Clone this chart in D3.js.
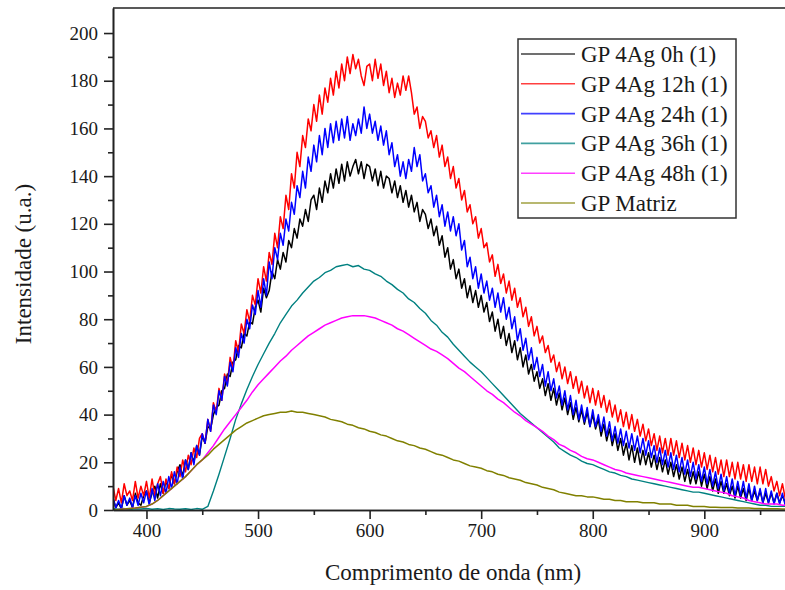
<!DOCTYPE html>
<html>
<head>
<meta charset="utf-8">
<script src="https://cdn.jsdelivr.net/npm/d3@7"></script>
<style>
  html, body { margin: 0; padding: 0; background: #fff; }
  svg { display: block; }
  text { font-family: "Liberation Serif", "Times New Roman", serif; fill: #1a1a1a; }
</style>
</head>
<body>
<svg id="chart" width="785" height="590"></svg>
<script>
// ---- Data ----
// measured spectra (noisy) on a 2.5 nm grid, smooth spectra on a 5 nm grid
const wavelengthsFine = d3.range(370, 975.1, 2.5);
const wavelengths = d3.range(370, 975.1, 5);

const seriesNames = ["GP 4Ag 0h (1)", "GP 4Ag 12h (1)", "GP 4Ag 24h (1)", "GP 4Ag 36h (1)", "GP 4Ag 48h (1)", "GP Matriz"];
const seriesColors = ["#000000", "#ff0000", "#0000ff", "#008080", "#ff00ff", "#808000"];

const gp0h = [
  5, 1, 3, 0.5, 6, 2, 4, 1, 7, 3, 2, 6,
  8, 3, 7, 10, 5, 11, 7, 12, 9, 15, 11, 16, 19, 14, 21, 17, 24, 20, 27, 23,
  31, 28, 35, 34, 40, 43, 44, 50, 51, 57, 56, 62, 63, 69, 68, 74, 73, 79, 78, 85,
  88, 83, 93, 89, 92, 100, 97, 105, 101, 108, 104, 113, 110, 118, 114, 122, 119, 126, 121, 130,
  132, 126, 135, 129, 138, 133, 141, 135, 143, 137, 145, 138, 146, 140, 144, 147, 141, 146, 139, 145,
  144, 138, 143, 136, 142, 135, 140, 139, 133, 138, 131, 136, 129, 134, 127, 132, 125, 129, 121, 126,
  124, 118, 122, 115, 119, 111, 115, 106, 110, 101, 105, 97, 101, 93, 97, 89, 94, 87, 92, 85,
  90, 83, 87, 79, 83, 75, 80, 72, 77, 69, 74, 66, 71, 63, 68, 60, 65, 57, 61, 54,
  58, 51, 55, 48, 53, 46, 51, 44, 49, 42, 47, 40, 45, 38, 43, 37, 42, 36, 41, 35,
  40, 34, 38, 31, 36, 29, 34, 27, 32, 25, 30, 23, 28, 21, 27, 20, 26, 19, 25, 19,
  24, 18, 23, 17, 22, 16, 21, 15, 20, 14, 19, 13, 18, 12, 17, 11, 16, 11, 16, 10,
  15, 9, 14, 8, 13, 7, 12, 7, 11, 6, 10, 5, 10, 5, 9, 4, 9, 4, 8, 4,
  8, 3, 7, 3, 7, 3, 7, 3, 6, 3, 5
];

const gp12h = [
  10, 4, 9, 3, 11, 6, 8, 4, 12, 5, 10, 6,
  12, 5, 13, 6, 11, 14, 7, 13, 9, 16, 11, 18, 14, 21, 16, 23, 19, 26, 22, 30,
  32, 28, 38, 33, 45, 41, 51, 46, 57, 53, 64, 59, 71, 66, 78, 74, 84, 79, 90, 86,
  97, 91, 102, 96, 108, 103, 116, 110, 123, 118, 132, 126, 141, 135, 150, 144, 157, 152, 164, 159,
  170, 163, 174, 166, 177, 171, 181, 174, 184, 177, 187, 180, 190, 183, 191, 185, 189, 182, 178, 186,
  187, 180, 189, 181, 187, 178, 184, 175, 181, 173, 179, 174, 182, 176, 182, 175, 166, 169, 160, 165,
  163, 156, 159, 152, 157, 148, 153, 144, 148, 139, 144, 135, 139, 130, 134, 125, 128, 120, 123, 114,
  118, 110, 112, 104, 107, 98, 103, 95, 99, 91, 96, 88, 93, 85, 89, 81, 85, 77, 81, 73,
  77, 70, 73, 66, 69, 62, 65, 58, 62, 55, 60, 53, 58, 51, 56, 49, 54, 47, 52, 45,
  51, 44, 50, 43, 48, 41, 46, 39, 44, 37, 42, 35, 41, 34, 40, 33, 38, 31, 36, 29,
  34, 27, 32, 25, 31, 24, 30, 23, 30, 23, 29, 22, 28, 21, 27, 20, 26, 19, 25, 18,
  24, 17, 23, 16, 22, 15, 21, 14, 21, 14, 20, 13, 20, 13, 19, 12, 19, 12, 18, 11,
  18, 11, 17, 10, 14, 8, 12, 6, 11, 5, 9
];

const gp24h = [
  5, 1, 4, 0.5, 6, 2, 5, 1, 6, 2, 7, 3,
  8, 2, 9, 4, 11, 6, 12, 7, 14, 9, 16, 11, 18, 13, 21, 17, 24, 19, 27, 23,
  32, 28, 38, 33, 44, 40, 50, 46, 56, 52, 62, 58, 68, 64, 74, 70, 80, 76, 86, 82,
  92, 85, 97, 90, 104, 97, 110, 105, 116, 111, 122, 117, 129, 124, 136, 131, 142, 135, 148, 142,
  153, 146, 157, 149, 160, 152, 162, 154, 163, 155, 164, 156, 165, 155, 162, 157, 164, 158, 169, 160,
  166, 158, 163, 155, 161, 153, 159, 149, 154, 144, 149, 140, 146, 139, 147, 142, 152, 144, 149, 138,
  141, 133, 136, 127, 132, 123, 128, 119, 125, 117, 123, 115, 120, 109, 113, 102, 106, 97, 102, 93,
  99, 91, 96, 88, 93, 85, 91, 83, 89, 80, 85, 76, 81, 71, 76, 67, 72, 63, 68, 59,
  64, 56, 61, 52, 58, 50, 55, 47, 52, 44, 50, 42, 48, 40, 46, 38, 44, 37, 43, 35,
  42, 35, 40, 33, 39, 31, 37, 29, 35, 28, 34, 27, 33, 26, 32, 25, 31, 24, 30, 23,
  29, 22, 27, 20, 26, 19, 25, 18, 24, 17, 23, 16, 22, 15, 21, 14, 20, 13, 19, 12,
  18, 11, 17, 10, 16, 9, 15, 8, 14, 7, 13, 6, 12, 6, 12, 5, 11, 4, 10, 4,
  9, 3, 9, 3, 8, 2.5, 7, 2.5, 7, 2, 6
];

const gp36h = [
  0.5, 0.3, 0.6, 0.2, 0.5, 0.4, 0.6, 0.3, 0.5, 0.2, 0.6, 0.4, 0.3, 0.5, 0.2, 0.6,
  0.3, 1.5, 8, 15, 22.5, 30, 38, 44.5, 50.5, 56,
  61, 65.5, 70, 74, 78.5, 82, 85.5, 88, 91, 93.5,
  96, 97.5, 99.5, 100.5, 102, 102.5, 103, 102, 102.5, 101,
  100.5, 99, 98, 96, 94.5, 92.5, 91, 88.5, 87, 84.5,
  82.5, 79.5, 77.5, 74.5, 72.5, 69.5, 67, 64.5, 62, 60,
  58, 55.5, 53, 50.5, 48, 45.5, 43, 40.5, 38.5, 36.5,
  34.5, 32.5, 30.5, 28.5, 26, 24.5, 23, 22, 20.5, 19.5,
  19, 18, 17, 16, 15.5, 14.5, 14, 13, 12.5, 12,
  11.5, 11, 10.5, 10, 9.5, 9, 8.5, 8, 7.5, 7.5,
  7, 6.5, 6, 5.5, 5, 4.5, 4, 3.5, 3, 2.5,
  2, 2, 1.5, 1.5, 1.5, 1.5
];

const gp48h = [
  0, 0.2, 0.4, 0.6, 0.8, 1.2, 1.5, 2.5, 4, 6, 8, 10, 12, 14, 16.5, 19,
  21, 24, 27, 30.5, 34, 37, 40, 43, 46, 49.5,
  52.5, 55, 57.5, 60, 62.5, 64.5, 67, 69, 71, 73,
  74.5, 76, 77.5, 78.5, 79.5, 80.5, 81, 81.5, 81.5, 81.5,
  81, 80.5, 79.5, 78.5, 77.5, 76, 75, 73.5, 72, 70.5,
  69, 67.5, 66.5, 65, 63.5, 61.5, 59.5, 58, 56, 54,
  52, 50, 48.5, 46.5, 45, 43, 41, 39.5, 37.5, 36,
  34.5, 33, 31, 29.5, 27.5, 26.5, 25, 24, 22.5, 21.5,
  21, 20, 19, 18, 17, 16.5, 15.5, 15, 14.5, 14,
  13.5, 13, 12.5, 12, 11.5, 11, 10.5, 10, 9.5, 9.5,
  9, 8.5, 8, 7.5, 7, 6, 5.5, 5, 4, 3.5,
  3, 2.5, 2.5, 2.5, 2, 2
];

const gpMatriz = [
  0, 0.2, 0.4, 0.6, 0.8, 1.2, 1.5, 2.5, 4, 6, 8, 10, 12, 14, 16.5, 19,
  21, 23, 25.5, 27.5, 29.5, 31.5, 33.5, 35, 36.5, 37.5,
  38.5, 39.5, 40, 40.5, 41, 41, 41.5, 41, 41, 40.5,
  40, 39.5, 39, 38, 37.5, 37, 36, 35.5, 34.5, 34,
  33, 32.5, 31.5, 31, 30, 29, 28.5, 27.5, 27, 26,
  25.5, 24.5, 23.5, 23, 22, 21, 20.5, 19.5, 18.5, 18,
  17.5, 16.5, 16, 15, 14.5, 13.5, 13, 12.5, 11.5, 11,
  10.5, 9.5, 9, 8.5, 7.5, 7, 6.5, 6, 6, 5.5,
  5.5, 5, 4.5, 4.5, 4, 4, 3.5, 3.5, 3.5, 3,
  3, 3, 2.5, 2.5, 2.5, 2, 2, 2, 1.5, 1.5,
  1.5, 1.2, 1.2, 1, 1, 1, 0.8, 0.8, 0.8, 0.6,
  0.6, 0.5, 0.5, 0.5, 0.4, 0.4
];

const seriesValues = [gp0h, gp12h, gp24h, gp36h, gp48h, gpMatriz];
const seriesGrid = [wavelengthsFine, wavelengthsFine, wavelengthsFine, wavelengths, wavelengths, wavelengths];

const xMajorTicks = [400, 500, 600, 700, 800, 900];
const xMinorTicks = [450, 550, 650, 750, 850, 950];
const yMajorTicks = [0, 20, 40, 60, 80, 100, 120, 140, 160, 180, 200];
const yMinorTicks = [10, 30, 50, 70, 90, 110, 130, 150, 170, 190];

const xTitle = "Comprimento de onda (nm)";
const yTitle = "Intensidade (u.a.)";

seriesValues.forEach((v, k) => {
  if (v.length !== seriesGrid[k].length) {
    throw new Error("length mismatch in series " + k + ": " + v.length + " vs " + seriesGrid[k].length);
  }
});

// ---- Layout ----
const plot = { left: 113, top: 8, right: 788, bottom: 510 };

const svg = d3.select("#chart");

const x = d3.scaleLinear().domain([370, 975]).range([plot.left, plot.right]);
const y = d3.scaleLinear().domain([0, 210.5]).range([plot.bottom, plot.top]);

svg.append("defs").append("clipPath").attr("id", "clip")
  .append("rect")
  .attr("x", plot.left).attr("y", plot.top)
  .attr("width", plot.right - plot.left).attr("height", plot.bottom - plot.top);

// ---- Lines ----
const widths = [1.5, 1.5, 1.5, 1.4, 1.5, 1.5];

const lines = svg.append("g").attr("clip-path", "url(#clip)");
seriesValues.forEach((vals, k) => {
  const grid = seriesGrid[k];
  const line = d3.line()
    .x((d, i) => x(grid[i]))
    .y(d => y(d));
  lines.append("path")
    .datum(vals)
    .attr("fill", "none")
    .attr("stroke", seriesColors[k])
    .attr("stroke-width", widths[k])
    .attr("stroke-linejoin", "round")
    .attr("d", line);
});

// ---- Axes ----
const axisColor = "#222";
const fontTick = 19;

const gx = svg.append("g").attr("transform", `translate(0,${plot.bottom})`)
  .call(d3.axisBottom(x).tickValues(xMajorTicks).tickSize(9).tickPadding(5).tickSizeOuter(0));
const gxm = svg.append("g").attr("transform", `translate(0,${plot.bottom})`)
  .call(d3.axisBottom(x).tickValues(xMinorTicks).tickSize(5).tickFormat("").tickSizeOuter(0));
const gy = svg.append("g").attr("transform", `translate(${plot.left},0)`)
  .call(d3.axisLeft(y).tickValues(yMajorTicks).tickSize(9).tickPadding(6).tickSizeOuter(0));
const gym = svg.append("g").attr("transform", `translate(${plot.left},0)`)
  .call(d3.axisLeft(y).tickValues(yMinorTicks).tickSize(5).tickFormat("").tickSizeOuter(0));

[gx, gxm, gy, gym].forEach(g => {
  g.select(".domain").attr("stroke", axisColor).attr("stroke-width", 1.6);
  g.selectAll(".tick line").attr("stroke", axisColor).attr("stroke-width", 1.6);
  g.selectAll(".tick text")
    .attr("font-family", "Liberation Serif, Times New Roman, serif")
    .attr("font-size", fontTick)
    .attr("fill", "#1a1a1a");
});

// top and right frame lines
svg.append("line")
  .attr("x1", plot.left).attr("x2", plot.right)
  .attr("y1", plot.top).attr("y2", plot.top)
  .attr("stroke", axisColor).attr("stroke-width", 1.6);
svg.append("line")
  .attr("x1", plot.right).attr("x2", plot.right)
  .attr("y1", plot.top).attr("y2", plot.bottom)
  .attr("stroke", axisColor).attr("stroke-width", 1.6);

// ---- Axis titles ----
svg.append("text")
  .attr("x", 453).attr("y", 580)
  .attr("text-anchor", "middle")
  .attr("font-size", 23)
  .text(xTitle);

svg.append("text")
  .attr("transform", "translate(31,264) rotate(-90)")
  .attr("text-anchor", "middle")
  .attr("font-size", 23)
  .text(yTitle);

// ---- Legend ----
const legend = svg.append("g");
legend.append("rect")
  .attr("x", 518).attr("y", 39)
  .attr("width", 218).attr("height", 179)
  .attr("fill", "#fff")
  .attr("stroke", "#333").attr("stroke-width", 1.5);

seriesNames.forEach((name, k) => {
  const yy = 54 + k * 29.8;
  legend.append("line")
    .attr("x1", 521).attr("x2", 575)
    .attr("y1", yy).attr("y2", yy)
    .attr("stroke", seriesColors[k])
    .attr("stroke-opacity", 0.75)
    .attr("stroke-width", 1.6);
  legend.append("text")
    .attr("x", 581).attr("y", yy)
    .attr("dy", "0.35em")
    .attr("font-size", 23)
    .text(name);
});
</script>
</body>
</html>
